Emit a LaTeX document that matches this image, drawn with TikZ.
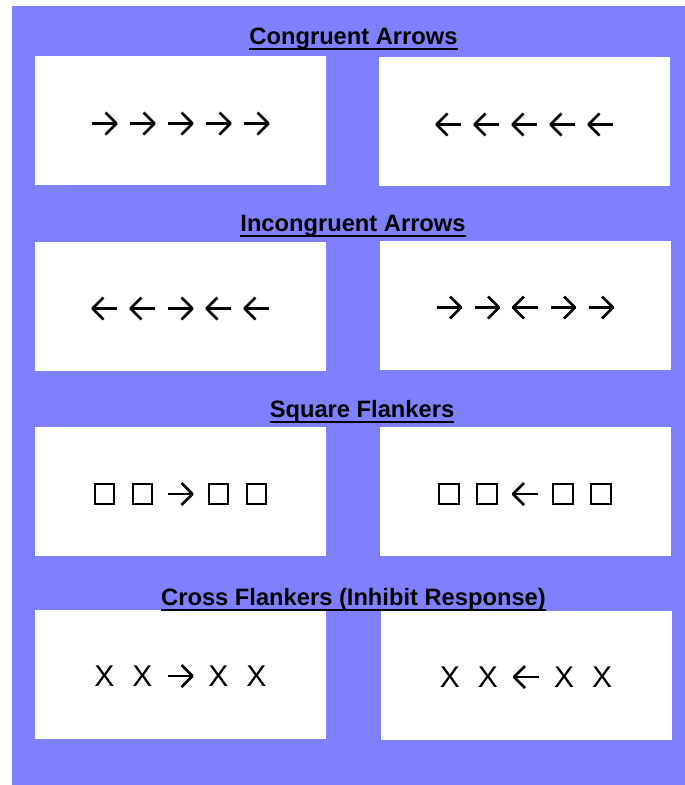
\documentclass[tikz,border=0pt]{standalone}
\usepackage{fontspec}
\setmainfont{Liberation Sans}
\definecolor{bgblue}{RGB}{128,128,255}
\tikzset{
  panel/.style={fill=white, draw=none, minimum width=291pt, minimum height=129pt, inner sep=0pt},
  ttl/.style={font=\fontsize{23.7}{28}\selectfont\bfseries, inner sep=0pt, anchor=base},
  uline/.style={line width=2pt},
  arr/.style={line width=2.7pt, line join=round, line cap=butt},
  sq/.style={draw, line width=2.1pt, minimum size=19.8pt, inner sep=0pt},
  xl/.style={font=\fontsize{30}{34}\selectfont, inner sep=0pt}
}
\newcommand\stimR[3]{\draw[arr] ({#1-12.5},{#2}) -- ({#1+12},{#2});
  \draw[arr] ({#1+1},{#2-11}) -- ({#1+12},{#2}) -- ({#1+1},{#2+11});}
\newcommand\stimL[3]{\draw[arr] ({#1+12.5},{#2}) -- ({#1-12},{#2});
  \draw[arr] ({#1-1},{#2-11}) -- ({#1-12},{#2}) -- ({#1-1},{#2+11});}
\newcommand\stimS[3]{\node[sq] (#3) at ({#1},{#2}) {};}
\newcommand\stimX[3]{\node[xl] (#3) at ({#1},{#2}) {X};}
\newcommand\stimrow[4]{%
  \foreach \s [count=\i] in {#4} {
    \pgfmathsetmacro\xx{#1+(\i-3)*38}
    \csname stim\s\endcsname{\xx}{#2}{#3-\i}
  }}
\begin{document}
\begin{tikzpicture}[x=1pt,y=-1pt]
\useasboundingbox (0,0) rectangle (685,785);
\fill[bgblue] (12,6) rectangle (685,785);

% panels
\node[panel] (p1l) at (180.5,120.5) {};
\node[panel] (p1r) at (524.5,121.5) {};
\node[panel] (p2l) at (180.5,306) {};
\node[panel] (p2r) at (525,305) {};
\node[panel] (p3l) at (180.5,491) {};
\node[panel] (p3r) at (525,491.5) {};
\node[panel] (p4l) at (180.5,674.5) {};
\node[panel] (p4r) at (526,675.5) {};

% titles
\node[ttl] (t1) at (353.5,44) {Congruent Arrows};
\node[ttl] (t2) at (353,231) {Incongruent Arrows};
\node[ttl] (t3) at (362,417) {Square Flankers};
\node[ttl] (t4) at (353.5,605) {Cross Flankers (Inhibit Response)};
\foreach \t in {t1,t2,t3,t4}
  \draw[uline] ([yshift=-4.5pt]\t.base west) -- ([yshift=-4.5pt]\t.base east);

% stimuli
\stimrow{180.5}{123.5}{s1l}{R,R,R,R,R}
\stimrow{524.5}{124.5}{s1r}{L,L,L,L,L}
\stimrow{180.5}{308.5}{s2l}{L,L,R,L,L}
\stimrow{525}{307.5}{s2r}{R,R,L,R,R}
\stimrow{180.5}{494}{s3l}{S,S,R,S,S}
\stimrow{525}{494}{s3r}{S,S,L,S,S}
\stimrow{180.5}{676}{s4l}{X,X,R,X,X}
\stimrow{526}{677}{s4r}{X,X,L,X,X}
\end{tikzpicture}
\end{document}
